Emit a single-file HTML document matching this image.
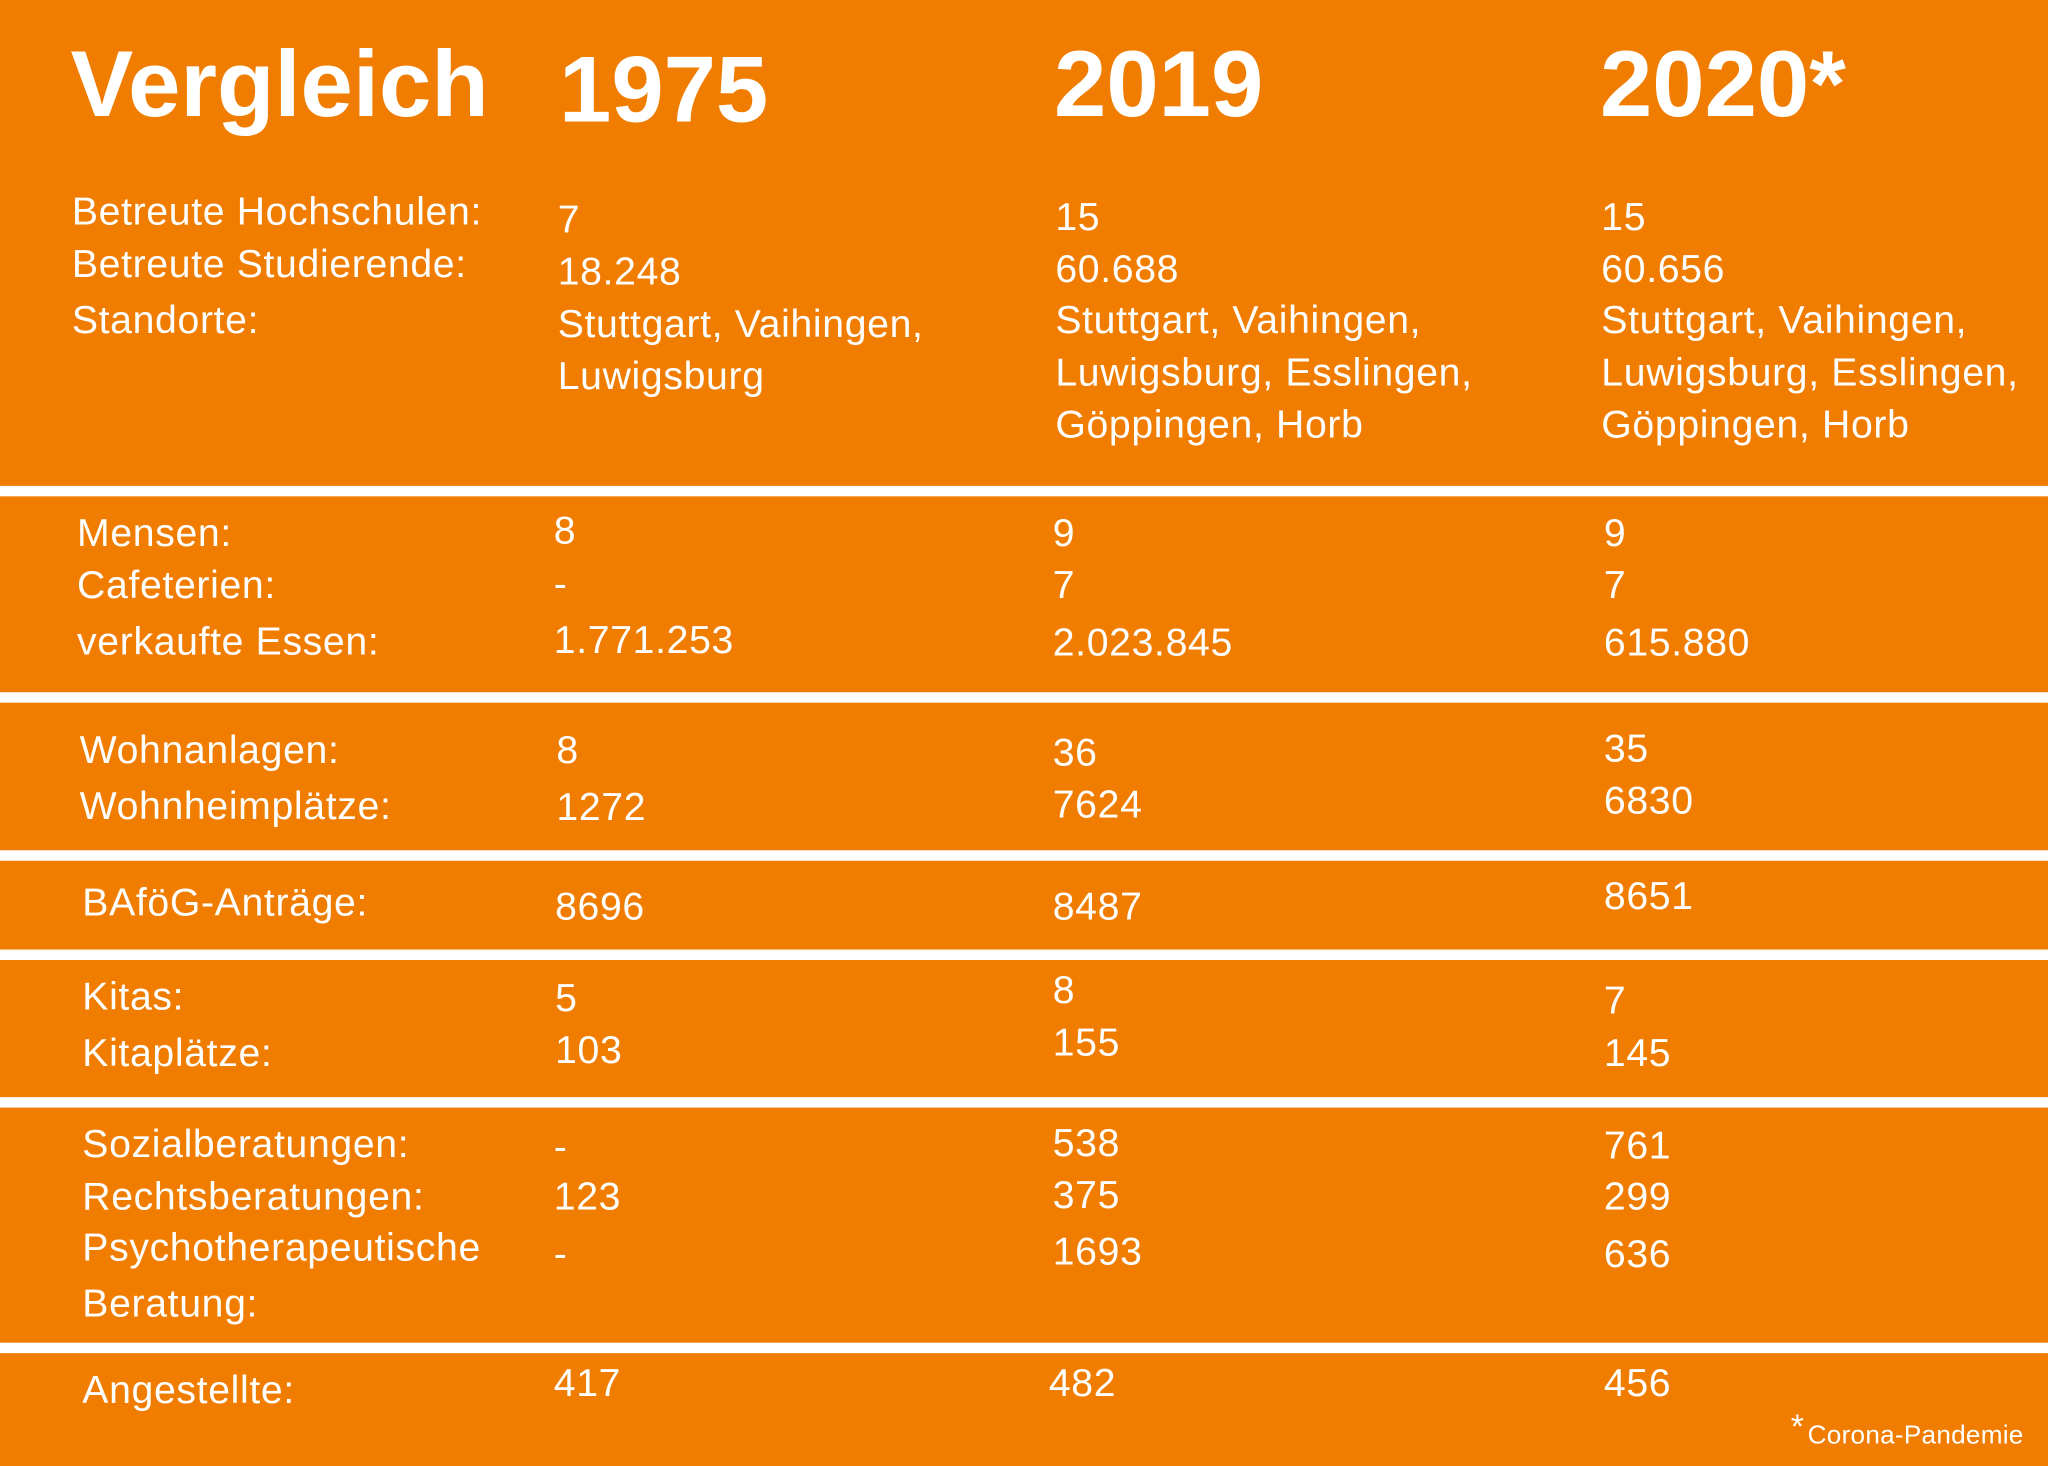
<!DOCTYPE html>
<html><head><meta charset="utf-8"><style>
html,body{margin:0;padding:0;width:2048px;height:1466px;overflow:hidden;background:#f07d00}
#w{position:absolute;left:0;top:0;width:1568px;height:1122px;transform:scale(1.30612);transform-origin:0 0;background:#f07d00;font-family:"Liberation Sans",sans-serif;color:#fff}
#w div{position:absolute;white-space:nowrap;line-height:1;font-size:30px;letter-spacing:0.5px}
#w div.t{font-size:72px;font-weight:bold;letter-spacing:0}
#w div.s{position:absolute;left:0;width:1568px;height:8px;background:#fff}
#w div#b{left:0;top:2px;width:1568px;height:1100px}
</style></head><body><div id="w">
<div class="s" style="top:372px"></div>
<div class="s" style="top:530px"></div>
<div class="s" style="top:651px"></div>
<div class="s" style="top:727px"></div>
<div class="s" style="top:840px"></div>
<div class="s" style="top:1028px"></div>

<div class="t" style="left:54px;top:29px">Vergleich</div>
<div class="t" style="left:428px;top:33px">1975</div>
<div class="t" style="left:807px;top:29px">2019</div>
<div class="t" style="left:1225px;top:29px">2020*</div>

<div id="b">
<div style="left:55px;top:146px">Betreute Hochschulen:</div>
<div style="left:55px;top:186px">Betreute Studierende:</div>
<div style="left:55px;top:229px">Standorte:</div>
<div style="left:427px;top:152px">7</div>
<div style="left:427px;top:192px">18.248</div>
<div style="left:427px;top:232px">Stuttgart, Vaihingen,</div>
<div style="left:427px;top:272px">Luwigsburg</div>
<div style="left:808px;top:150px">15</div>
<div style="left:808px;top:190px">60.688</div>
<div style="left:808px;top:229px">Stuttgart, Vaihingen,</div>
<div style="left:808px;top:269px">Luwigsburg, Esslingen,</div>
<div style="left:808px;top:309px">Göppingen, Horb</div>
<div style="left:1226px;top:150px">15</div>
<div style="left:1226px;top:190px">60.656</div>
<div style="left:1226px;top:229px">Stuttgart, Vaihingen,</div>
<div style="left:1226px;top:269px">Luwigsburg, Esslingen,</div>
<div style="left:1226px;top:309px">Göppingen, Horb</div>

<div style="left:59px;top:392px">Mensen:</div>
<div style="left:59px;top:432px">Cafeterien:</div>
<div style="left:59px;top:475px">verkaufte Essen:</div>
<div style="left:424px;top:390px">8</div>
<div style="left:424px;top:431px">-</div>
<div style="left:424px;top:474px">1.771.253</div>
<div style="left:806px;top:392px">9</div>
<div style="left:806px;top:432px">7</div>
<div style="left:806px;top:476px">2.023.845</div>
<div style="left:1228px;top:392px">9</div>
<div style="left:1228px;top:432px">7</div>
<div style="left:1228px;top:476px">615.880</div>

<div style="left:61px;top:558px">Wohnanlagen:</div>
<div style="left:61px;top:601px">Wohnheimplätze:</div>
<div style="left:426px;top:558px">8</div>
<div style="left:426px;top:602px">1272</div>
<div style="left:806px;top:560px">36</div>
<div style="left:806px;top:600px">7624</div>
<div style="left:1228px;top:557px">35</div>
<div style="left:1228px;top:597px">6830</div>

<div style="left:63px;top:675px">BAföG-Anträge:</div>
<div style="left:425px;top:678px">8696</div>
<div style="left:806px;top:678px">8487</div>
<div style="left:1228px;top:670px">8651</div>

<div style="left:63px;top:747px">Kitas:</div>
<div style="left:63px;top:790px">Kitaplätze:</div>
<div style="left:425px;top:748px">5</div>
<div style="left:425px;top:788px">103</div>
<div style="left:806px;top:742px">8</div>
<div style="left:806px;top:782px">155</div>
<div style="left:1228px;top:750px">7</div>
<div style="left:1228px;top:790px">145</div>

<div style="left:63px;top:860px">Sozialberatungen:</div>
<div style="left:63px;top:900px">Rechtsberatungen:</div>
<div style="left:63px;top:939px">Psychotherapeutische</div>
<div style="left:63px;top:982px">Beratung:</div>
<div style="left:424px;top:862px">-</div>
<div style="left:424px;top:900px">123</div>
<div style="left:424px;top:944px">-</div>
<div style="left:806px;top:859px">538</div>
<div style="left:806px;top:899px">375</div>
<div style="left:806px;top:942px">1693</div>
<div style="left:1228px;top:861px">761</div>
<div style="left:1228px;top:900px">299</div>
<div style="left:1228px;top:944px">636</div>

<div style="left:63px;top:1048px">Angestellte:</div>
<div style="left:424px;top:1043px">417</div>
<div style="left:803px;top:1043px">482</div>
<div style="left:1228px;top:1043px">456</div>

<div style="left:1371px;top:1077px;font-size:26px;letter-spacing:0">*</div>
<div style="left:1384px;top:1087px;font-size:20px;letter-spacing:0.2px">Corona-Pandemie</div>
</div>
</div></body></html>
